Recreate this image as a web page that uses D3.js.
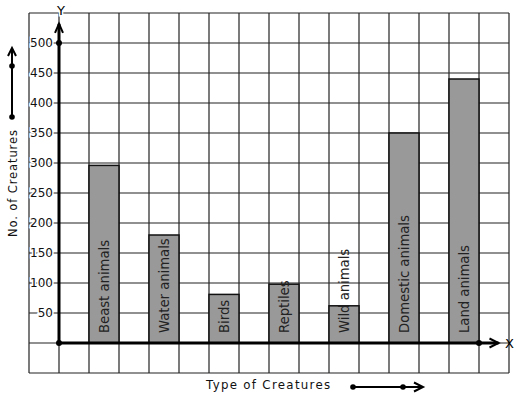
<!DOCTYPE html>
<html>
<head>
<meta charset="utf-8">
<script src="https://cdn.jsdelivr.net/npm/d3@7"></script>
<style>
	body { margin: 0; background: #fff; }
	text { font-family: "DejaVu Sans", sans-serif; }
</style>
</head>
<body>
<div id="chart"></div>
<script>
const creatures = ['Beast animals', 'Water animals', 'Birds', 'Reptiles', 'Wild animals', 'Domestic animals', 'Land animals'];
const counts = [296, 180, 81, 98, 62, 350, 440];
const yTicks = [50, 100, 150, 200, 250, 300, 350, 400, 450, 500];

const W = 517, H = 399;

const svg = d3.select('#chart')
	.append('svg')
	.attr('width', W)
	.attr('height', H);

// graph paper: one square = 1 unit across, 50 creatures up
const x = d3.scaleLinear().domain([-1, 15]).range([29, 509]);
const y = d3.scaleLinear().domain([-50, 550]).range([373, 13]);

const grid = svg.append('g')
	.attr('stroke', '#222')
	.attr('stroke-width', 1.2);

grid.selectAll('line.v')
	.data(d3.range(-1, 16))
	.join('line')
	.attr('x1', d => x(d)).attr('x2', d => x(d))
	.attr('y1', y(550)).attr('y2', y(-50));

grid.selectAll('line.h')
	.data(d3.range(-50, 551, 50))
	.join('line')
	.attr('x1', x(-1)).attr('x2', x(15))
	.attr('y1', d => y(d)).attr('y2', d => y(d));

// bars
svg.append('g')
	.selectAll('rect')
	.data(counts)
	.join('rect')
	.attr('x', (d, i) => x(1 + 2 * i))
	.attr('width', x(2) - x(1))
	.attr('y', d => y(d))
	.attr('height', d => y(0) - y(d))
	.attr('fill', '#999')
	.attr('stroke', '#111')
	.attr('stroke-width', 1.5);

// bar labels, vertical
svg.append('g')
	.selectAll('text')
	.data(creatures)
	.join('text')
	.attr('transform', (d, i) => `translate(${x(1.5 + 2 * i) + 4.5},${y(0) - 10}) rotate(-90)`)
	.attr('font-size', 13.2)
	.attr('fill', '#222')
	.text(d => d);

// y tick labels
svg.append('g')
	.selectAll('text')
	.data(yTicks)
	.join('text')
	.attr('x', x(0) - 6)
	.attr('y', d => y(d))
	.attr('dy', '0.35em')
	.attr('text-anchor', 'end')
	.attr('font-size', 12)
	.attr('fill', '#111')
	.attr('stroke', '#fff')
	.attr('stroke-width', 3)
	.attr('paint-order', 'stroke')
	.text(d => d);

// axes
const axes = svg.append('g')
	.attr('stroke', '#000')
	.attr('fill', 'none')
	.attr('stroke-width', 3);

axes.append('line')
	.attr('x1', x(0)).attr('x2', x(0))
	.attr('y1', y(0)).attr('y2', y(532));
axes.append('path')
	.attr('stroke-width', 2)
	.attr('d', `M${x(0) - 4},${y(532) + 9}L${x(0)},${y(532)}L${x(0) + 4},${y(532) + 9}`);

axes.append('line')
	.attr('x1', x(0)).attr('x2', x(14.65))
	.attr('y1', y(0)).attr('y2', y(0));
axes.append('path')
	.attr('stroke-width', 2)
	.attr('d', `M${x(14.65) - 9},${y(0) - 4.5}L${x(14.65)},${y(0)}L${x(14.65) - 9},${y(0) + 4.5}`);

svg.selectAll('circle.pt')
	.data([[0, 0], [0, 500], [14, 0]])
	.join('circle')
	.attr('cx', d => x(d[0]))
	.attr('cy', d => y(d[1]))
	.attr('r', 3)
	.attr('fill', '#000');

svg.append('text')
	.attr('x', x(0) + 2).attr('y', 10).attr('dy', '0.35em')
	.attr('text-anchor', 'middle')
	.attr('font-size', 13)
	.attr('stroke', '#fff').attr('stroke-width', 3).attr('paint-order', 'stroke')
	.text('Y');

svg.append('text')
	.attr('x', 505).attr('y', y(0)).attr('dy', '0.35em')
	.attr('font-size', 13)
	.text('X');

// axis titles
svg.append('text')
	.attr('transform', 'translate(17,237) rotate(-90)')
	.attr('font-size', 11.5)
	.attr('letter-spacing', 0.9)
	.attr('fill', '#111')
	.text('No. of Creatures');

svg.append('text')
	.attr('x', 206).attr('y', 389)
	.attr('font-size', 11.8)
	.attr('letter-spacing', 1.3)
	.attr('fill', '#111')
	.text('Type of Creatures');

// little direction arrows beside the titles
const side = svg.append('g').attr('stroke', '#000').attr('fill', 'none').attr('stroke-width', 2);
side.append('line').attr('x1', 12).attr('x2', 12).attr('y1', 117).attr('y2', 48);
side.append('path').attr('d', 'M8,56L12,48L16,56');
side.append('line').attr('x1', 353).attr('x2', 422).attr('y1', 387).attr('y2', 387);
side.append('path').attr('d', 'M414,382.5L423,387L414,391.5');

svg.selectAll('circle.deco')
	.data([[12, 66], [12, 117], [353, 387], [403, 387]])
	.join('circle')
	.attr('cx', d => d[0])
	.attr('cy', d => d[1])
	.attr('r', 2.8)
	.attr('fill', '#000');
</script>
</body>
</html>
